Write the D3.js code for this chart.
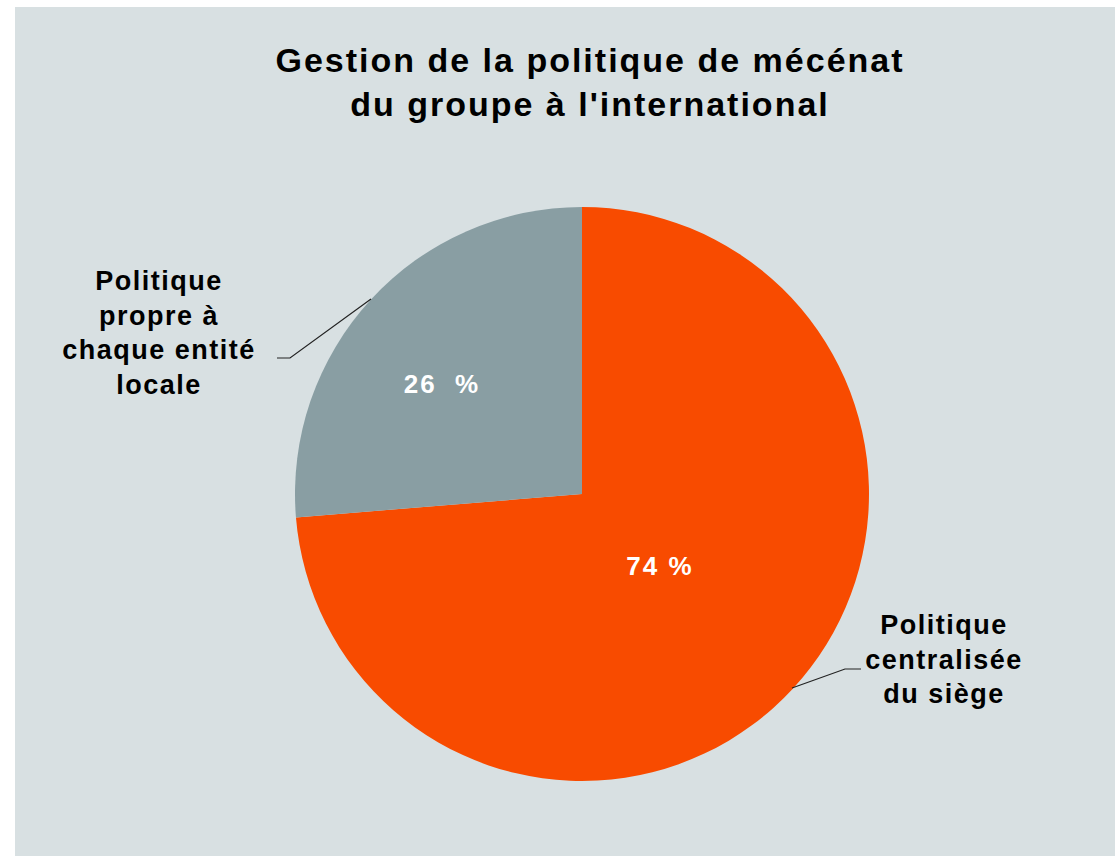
<!DOCTYPE html>
<html>
<head>
<meta charset="utf-8">
<script src="https://cdn.jsdelivr.net/npm/d3@7"></script>
<style>
  body { margin: 0; background: #fff; }
  svg { display: block; font-family: "Liberation Sans", Arial, sans-serif; }
</style>
</head>
<body>
<div id="wrapper"></div>
<script>
// data
const categories = ['Politique centralisée du siège', 'Politique propre à chaque entité locale'];
const values = [73.7, 26.3];
const valueLabels = ['74 %', '26  %'];
const labelLines = [
    ['Politique', 'centralisée', 'du siège'],
    ['Politique', 'propre à', 'chaque entité', 'locale']
];
const colors = ['#f84b00', '#899ea3'];

const width = 1115;
const height = 857;
const spacing = 2; // letters are set a bit wider in the original

const svg = d3.select('#wrapper')
    .append('svg')
    .attr('width', width)
    .attr('height', height);

// chart area
svg.append('rect')
    .attr('x', 15)
    .attr('y', 7)
    .attr('width', width - 15)
    .attr('height', height - 8)
    .attr('fill', '#d8e0e2');

// title
const title = svg.append('text')
    .attr('text-anchor', 'middle')
    .attr('font-weight', 'bold')
    .attr('font-size', 34)
    .attr('letter-spacing', spacing)
    .attr('fill', '#000');
title.append('tspan').attr('x', 590).attr('y', 72).text('Gestion de la politique de mécénat');
title.append('tspan').attr('x', 590).attr('y', 116).text("du groupe à l'international");

// pie
const cx = 582, cy = 494, radius = 287;
const pie = d3.pie().sort(null).value(d => d);
const arcs = pie(values);
const arc = d3.arc().innerRadius(0).outerRadius(radius);

const g = svg.append('g').attr('transform', `translate(${cx},${cy})`);

g.selectAll('path.slice')
    .data(arcs)
    .join('path')
    .attr('class', 'slice')
    .attr('d', arc)
    .attr('fill', (d, i) => colors[i]);

// value labels inside slices
const valuePos = [[78, 81], [-140, -101]];
g.selectAll('text.value')
    .data(arcs)
    .join('text')
    .attr('class', 'value')
    .attr('x', (d, i) => valuePos[i][0])
    .attr('y', (d, i) => valuePos[i][1])
    .attr('text-anchor', 'middle')
    .attr('font-weight', 'bold')
    .attr('font-size', 26)
    .attr('letter-spacing', spacing)
    .style('white-space', 'pre')
    .attr('fill', '#fff')
    .text((d, i) => valueLabels[i]);

// outside labels with leader lines
const labelPos = [
    { x: 944, y: 634, lines: [[792, 688], [845, 669], [861, 669]] },
    { x: 159, y: 290, lines: [[371, 299], [290, 358], [277, 358]] }
];
const lineHeight = 34.5;

labelPos.forEach((p, i) => {
    svg.append('path')
        .attr('d', d3.line()(p.lines))
        .attr('fill', 'none')
        .attr('stroke', '#222')
        .attr('stroke-width', 1.2);

    const t = svg.append('text')
        .attr('text-anchor', 'middle')
        .attr('font-weight', 'bold')
        .attr('font-size', 27)
        .attr('letter-spacing', 1.5)
        .attr('fill', '#000');
    labelLines[i].forEach((line, j) => {
        t.append('tspan')
            .attr('x', p.x)
            .attr('y', p.y + j * lineHeight)
            .text(line);
    });
});
</script>
</body>
</html>
